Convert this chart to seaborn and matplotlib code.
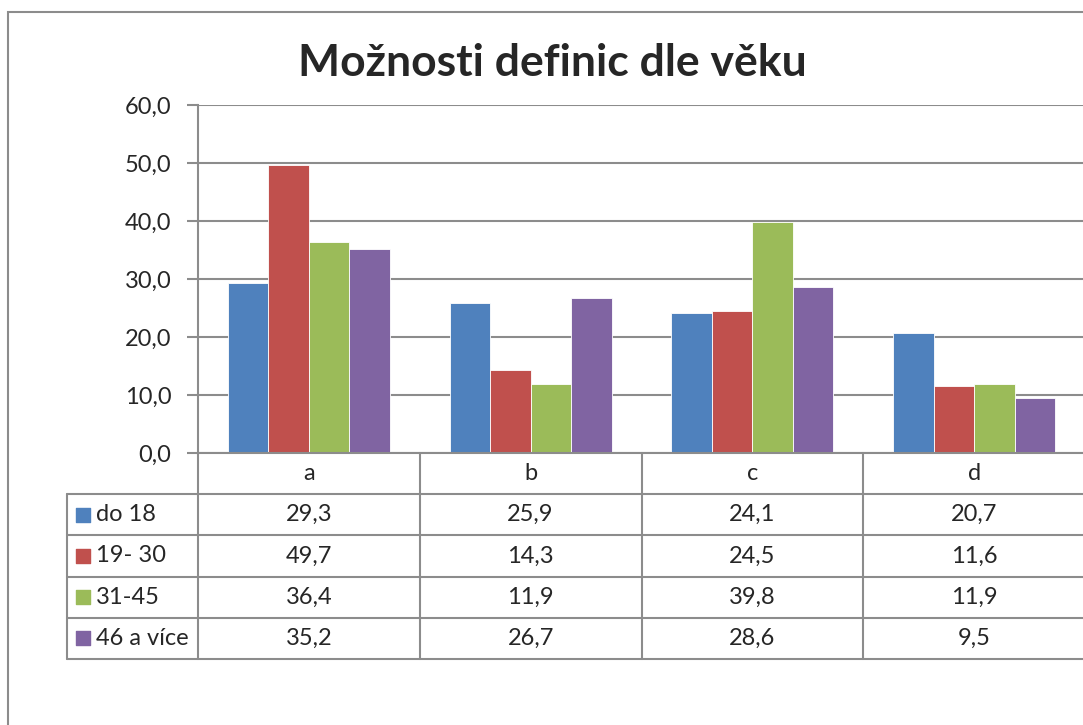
import seaborn as sns
import matplotlib.pyplot as plt
import pandas as pd
from matplotlib.patches import Rectangle

# Data
kategorie = ["a", "b", "c", "d"]
skupiny = ["do 18", "19- 30", "31-45", "46 a více"]
do_18 = [29.3, 25.9, 24.1, 20.7]
od_19_do_30 = [49.7, 14.3, 24.5, 11.6]
od_31_do_45 = [36.4, 11.9, 39.8, 11.9]
nad_46 = [35.2, 26.7, 28.6, 9.5]
barvy = ["#4F81BD", "#C0504D", "#9BBB59", "#8064A2"]
y_ticks = [0, 10, 20, 30, 40, 50, 60]

hodnoty = [do_18, od_19_do_30, od_31_do_45, nad_46]
df = pd.DataFrame({
    "kategorie": kategorie * len(skupiny),
    "vek": [s for s in skupiny for _ in kategorie],
    "hodnota": [v for serie in hodnoty for v in serie],
})

sns.set_style("white")
plt.rcParams["font.family"] = ["Lato", "DejaVu Sans"]
sivá = "#8C8C8C"
fs = 17

W, H = 1083, 725
fig = plt.figure(figsize=(W / 100, H / 100), dpi=100)

# vnější rámeček grafu (vpravo a dole je oříznutý)
fig.patches.append(Rectangle((8 / W, -0.1), 1.2, 1 - 12 / H + 0.1, transform=fig.transFigure,
                             fill=False, edgecolor=sivá, linewidth=1.5))

fig.text(552 / W, 1 - 63 / H, "Možnosti definic dle věku", ha="center", va="center",
         fontsize=32, fontweight="bold")

# hlavní graf
left, right, top, bottom = 198, 1085, 105, 453
ax = fig.add_axes([left / W, 1 - bottom / H, (right - left) / W, (bottom - top) / H])
sns.barplot(data=df, x="kategorie", y="hodnota", hue="vek", palette=barvy, width=0.73,
            saturation=1, edgecolor="white", linewidth=0.6, legend=False, ax=ax)
ax.set_xlim(-0.5, 3.5)
ax.set_ylim(0, 60)
ax.set_yticks(y_ticks)
ax.set_yticklabels([f"{t:.1f}".replace(".", ",") for t in y_ticks], fontsize=fs)
ax.tick_params(axis="y", left=True, length=8, width=1.5, color=sivá, pad=11)
ax.set_xticks([])
ax.set_xlabel("")
ax.set_ylabel("")
ax.grid(axis="y", color=sivá, linewidth=1.5)
ax.set_axisbelow(True)
for s in ["top", "right", "bottom"]:
    ax.spines[s].set_visible(False)
ax.spines["left"].set_color(sivá)
ax.spines["left"].set_linewidth(1.5)

# tabulka s daty pod grafem
tab_left, tab_bottom = 67, 659
ax_t = fig.add_axes([tab_left / W, 1 - tab_bottom / H, (right - tab_left) / W, (tab_bottom - bottom) / H])
x0 = -0.5 - (left - tab_left) / ((right - left) / 4)
ax_t.set_xlim(x0, 3.5)
ax_t.set_ylim(5, 0)
ax_t.axis("off")

car = dict(color=sivá, linewidth=1.5, clip_on=False)
ax_t.plot([-0.5, 3.5], [0, 0], **car)
for r in range(1, 6):
    ax_t.plot([x0, 3.5], [r, r], **car)
ax_t.plot([x0, x0], [1, 5], **car)
for c in range(4):
    ax_t.plot([c - 0.5, c - 0.5], [0, 5], **car)

for i, k in enumerate(kategorie):
    ax_t.text(i, 0.5, k, ha="center", va="center", fontsize=fs)

for r, (nazev, serie, barva) in enumerate(zip(skupiny, hodnoty, barvy), start=1):
    ax_t.scatter([x0 + 16 / 221.75], [r + 0.5], marker="s", s=100, color=barva, clip_on=False)
    ax_t.text(x0 + 29 / 221.75, r + 0.5, nazev, ha="left", va="center", fontsize=fs)
    for i, v in enumerate(serie):
        ax_t.text(i, r + 0.5, f"{v:.1f}".replace(".", ","), ha="center", va="center", fontsize=fs)

fig.savefig("out.png", dpi=100)
